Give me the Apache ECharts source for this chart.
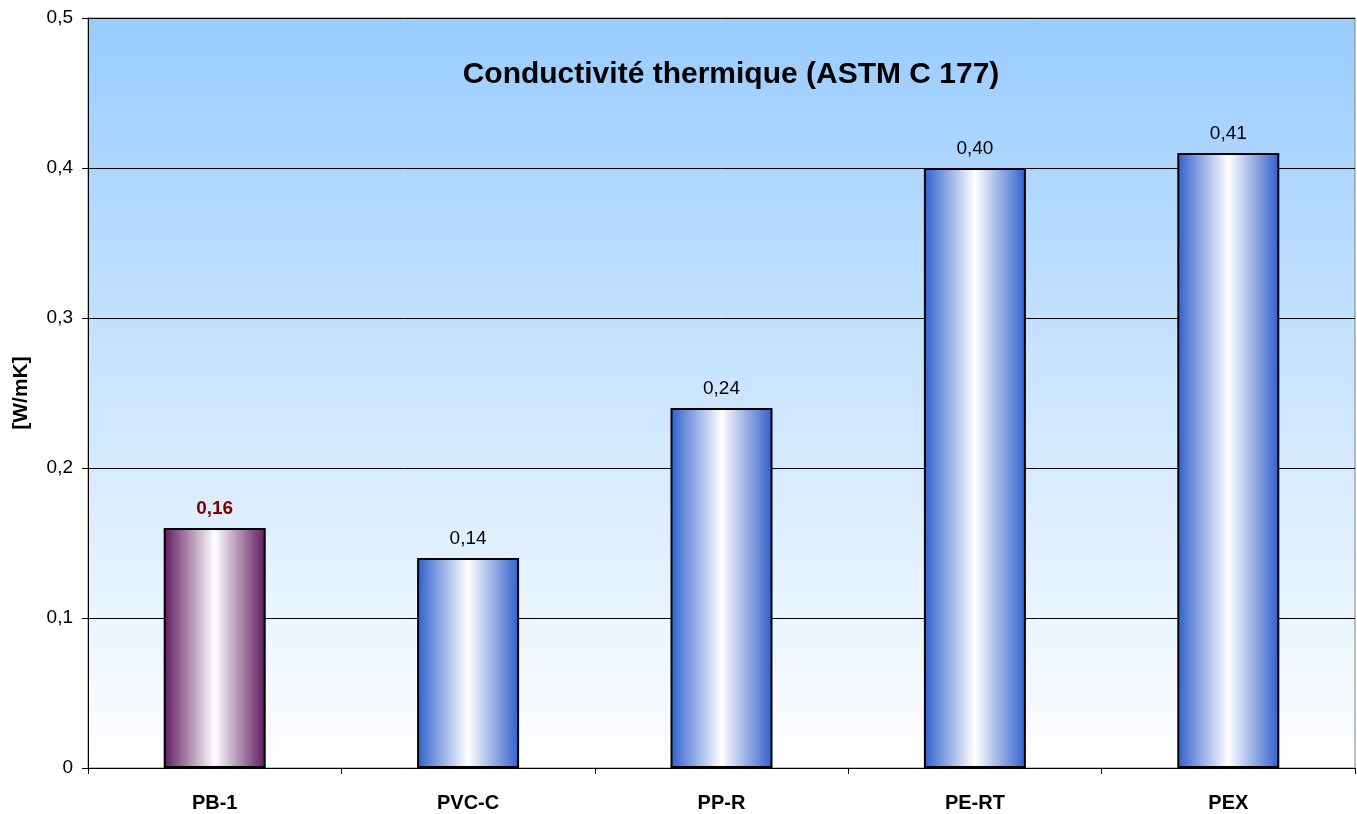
<!DOCTYPE html>
<html><head><meta charset="utf-8">
<script src="https://cdn.jsdelivr.net/npm/echarts@6/dist/echarts.min.js"></script>
<style>html,body{margin:0;padding:0;background:#fff}#c{width:1357px;height:814px}</style>
</head><body><div id="c"></div>
<script>
const categories = ['PB-1','PVC-C','PP-R','PE-RT','PEX'];
const values = [0.16, 0.14, 0.24, 0.40, 0.41];
const highlighted = [true, false, false, false, false];
const yTicks = [0, 0.1, 0.2, 0.3, 0.4, 0.5];

function grad(edge){
  return new echarts.graphic.LinearGradient(0,0,1,0,[
    {offset:0,color:edge},{offset:0.5,color:'#ffffff'},{offset:1,color:edge}]);
}
const chart = echarts.init(document.getElementById('c'));
const fmt = v => v.toFixed(2).replace('.', ',');
chart.setOption({
  animation:false,
  title:{text:'Conductivité thermique (ASTM C 177)',left:726,top:55,textAlign:'center',
    textStyle:{fontFamily:'Liberation Sans, Arial',fontSize:30,fontWeight:'bold',color:'#000'}},
  grid:{left:88,right:2,top:18,bottom:46,containLabel:false,outerBoundsMode:'none',
    show:true,borderColor:'#808080',borderWidth:1,
    backgroundColor:new echarts.graphic.LinearGradient(0,0,0,1,[{offset:0,color:'#99ccff'},{offset:1,color:'#ffffff'}])},
  xAxis:{type:'category',data:categories,
    axisLine:{lineStyle:{color:'#000',width:1}},
    axisTick:{show:true,alignWithLabel:false,length:6,lineStyle:{color:'#000'}},
    axisLabel:{margin:25,fontFamily:'Liberation Sans, Arial',fontSize:20,fontWeight:'bold',color:'#000'}},
  yAxis:{type:'value',min:yTicks[0],max:yTicks[yTicks.length-1],interval:0.1,
    name:'[W/mK]',nameLocation:'middle',nameGap:56,nameRotate:90,
    nameTextStyle:{fontFamily:'Liberation Sans, Arial',fontSize:21,fontWeight:'bold',color:'#000'},
    axisLine:{show:true,lineStyle:{color:'#000',width:1}},
    axisTick:{show:true,length:6,lineStyle:{color:'#000'}},
    splitLine:{lineStyle:{color:'#000',width:1}},
    axisLabel:{margin:15,fontFamily:'Liberation Sans, Arial',fontSize:19,color:'#000',
      formatter:v=>String(+v.toFixed(1)).replace('.',',')}},
  series:[{type:'bar',barWidth:102,
    data:values.map((v,i)=>({value:v,
      itemStyle:{color:grad(highlighted[i]?'#5e1a5e':'#2f5fcc'),borderColor:'#000',borderWidth:2},
      label:{show:true,position:'top',distance:10,formatter:fmt(v),
        fontFamily:'Liberation Sans, Arial',fontSize:19,
        fontWeight:highlighted[i]?'bold':'normal',color:highlighted[i]?'#800000':'#000'}}))}]
});
</script></body></html>
